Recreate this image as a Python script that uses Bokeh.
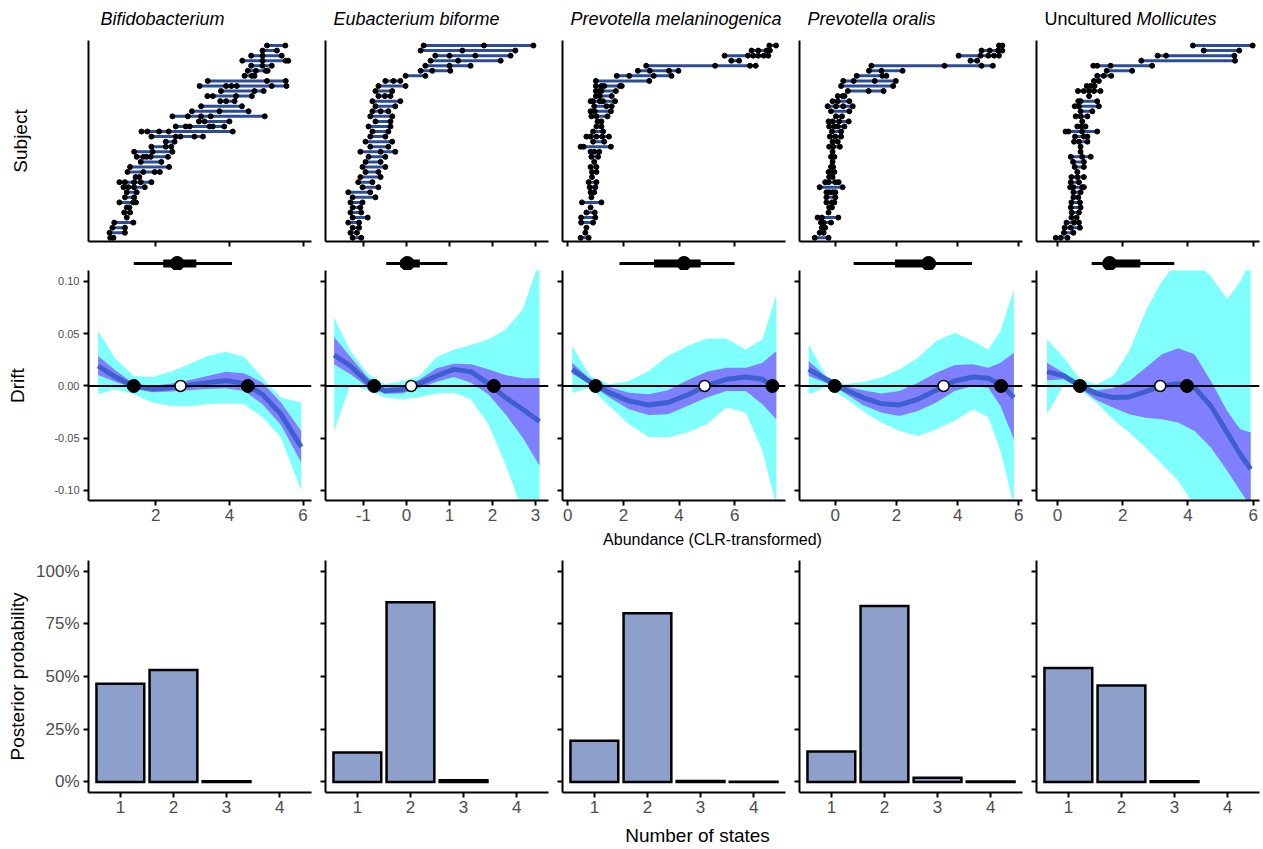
from bokeh.plotting import figure
from bokeh.layouts import column, row
from bokeh.models import Range1d, FixedTicker, CustomJSTickFormatter, NumeralTickFormatter
from bokeh.core.properties import value
from bokeh.embed import file_html
from bokeh.resources import INLINE

FONT = "Liberation Sans"

# ---------------- data ----------------
taxa = ["Bifidobacterium", "Eubacterium biforme", "Prevotella melaninogenica",
        "Prevotella oralis", "Uncultured Mollicutes"]

# per-subject abundance observations (rows listed top -> bottom)
bifido_subjects = [
    [5.02, 5.52], [4.90, 5.29], [4.59, 4.90, 5.42], [4.35, 4.90, 5.53, 5.60],
    [4.59, 4.90, 5.15], [4.50, 4.72, 4.99, 5.04], [4.41, 4.61, 4.68], [3.41, 5.02, 5.53],
    [3.19, 3.91, 4.05, 4.20, 5.15, 5.55], [3.77, 4.68, 4.93], [3.40, 3.55, 4.18, 4.61],
    [3.75, 3.91, 4.14], [3.23, 4.34], [2.98, 3.73, 4.52], [2.45, 2.87, 3.23, 3.49, 4.96],
    [3.17, 3.32, 4.00], [2.54, 2.81, 2.92, 3.46, 3.55, 3.86], [1.61, 1.77, 2.09, 2.35, 4.09],
    [1.88, 2.54, 2.67, 3.05, 3.28], [2.27, 2.51], [1.88, 2.27, 2.42], [1.41, 1.91, 2.45],
    [1.48, 1.66, 1.75, 1.86, 2.33], [1.59, 2.15], [1.30, 2.36], [1.23, 1.66, 1.97, 2.11],
    [1.45, 1.55], [1.01, 1.16, 1.41, 1.59, 1.88], [1.12, 1.25, 1.41, 1.70], [1.21, 1.48],
    [1.16, 1.41], [1.01, 1.39, 1.46], [1.21, 1.28], [1.14, 1.30], [1.21], [0.87, 1.39],
    [0.82, 1.16], [0.74, 1.16], [0.76, 0.85],
]
eubact_subjects = [
    [0.40, 1.80, 2.95], [0.33, 1.30, 2.53], [0.67, 1.00, 1.60, 2.42], [0.56, 1.20, 2.19],
    [0.44, 1.00, 1.49], [0.33, 0.60, 1.02], [-0.02, 0.44], [-0.49, -0.30, -0.14],
    [-0.65, -0.02], [-0.72, -0.33], [-0.65, -0.50, -0.37], [-0.79, -0.14], [-0.72, -0.26],
    [-0.79, -0.60, -0.42], [-0.84, -0.33], [-0.72, -0.37], [-0.88, -0.37], [-0.79, -0.42],
    [-0.84, -0.49], [-0.95, -0.33], [-0.84, -0.42], [-1.07, -0.60, -0.26], [-0.88, -0.49],
    [-0.95, -0.60], [-1.02, -0.49], [-0.95, -0.65], [-1.07, -0.60], [-1.12, -0.79],
    [-1.02, -0.65], [-1.35, -0.84], [-1.25, -0.72], [-1.30, -1.02], [-1.25, -1.07],
    [-1.30, -1.05], [-1.25, -0.90], [-1.35, -1.10], [-1.25, -1.10], [-1.30, -1.15],
    [-1.25, -1.05],
]
prevmel_subjects = [
    [7.25, 7.49], [6.61, 6.85, 7.15, 7.27], [5.64, 6.48, 6.67, 6.85, 7.05, 7.21], [5.88, 6.16],
    [2.82, 5.30, 6.55, 6.76], [2.52, 2.95, 3.64, 3.98], [1.76, 2.21, 3.09, 3.73], [1.01, 2.93],
    [1.01, 1.21, 1.31, 1.88, 1.94], [1.01, 1.13, 1.21, 1.73], [1.01, 1.15, 1.58],
    [0.82, 0.91, 1.15, 1.27, 1.70], [0.95, 1.39, 1.58], [0.82, 0.97, 1.55], [0.85, 1.03, 1.43],
    [1.07, 1.21], [1.03, 1.21], [0.91, 1.27], [0.67, 0.82, 1.03, 1.24, 1.48], [0.91, 1.31],
    [0.46, 0.57, 1.55], [0.82, 0.95, 1.13], [0.85, 1.09], [0.95], [0.82, 1.03], [0.87, 1.03],
    [0.87], [0.75, 1.03], [0.79, 0.99], [0.82, 0.95], [0.85], [0.51, 1.21], [0.82],
    [0.67, 0.97], [0.48, 0.99], [0.48, 0.91], [0.67], [0.63], [0.46, 0.75],
]
prevora_subjects = [
    [5.35, 5.46], [4.78, 5.05, 5.32, 5.46], [4.03, 4.75, 5.00, 5.19, 5.35], [4.42, 4.64],
    [1.18, 3.57, 4.78, 5.15], [1.10, 1.51, 2.20], [0.70, 1.54, 1.67], [0.26, 0.60, 1.29, 1.98],
    [0.19, 1.89], [0.41, 1.09, 1.58], [0.08, 0.24, 0.30], [-0.09, 0.08, 0.46],
    [-0.25, 0.02, 0.26, 0.57], [-0.14, 0.46], [0.02, 0.22], [-0.22, -0.09, 0.13, 0.44],
    [-0.20, -0.03, 0.08, 0.30], [-0.11, 0.19], [-0.18, 0.00, 0.19], [-0.09, 0.08],
    [-0.20, -0.07, 0.15], [-0.09], [-0.14, -0.03], [-0.09], [-0.14, -0.07],
    [-0.22, -0.14, -0.03], [-0.20, -0.09], [-0.33, -0.22, 0.00, 0.11], [-0.51, 0.24],
    [-0.29, -0.20, -0.09, 0.00], [-0.29, 0.00], [-0.29, -0.11, -0.03], [-0.20, -0.11],
    [-0.22], [-0.58, -0.44, 0.10], [-0.47, -0.38, -0.14], [-0.44, -0.33], [-0.51, -0.38],
    [-0.67, -0.22],
]
mollic_subjects = [
    [4.15, 5.98], [4.48, 5.57], [3.07, 3.33, 5.42], [2.57, 5.44], [1.10, 1.22, 1.63, 2.90],
    [1.51, 2.29], [1.22, 1.42, 1.65], [1.12, 1.27], [0.90, 1.02, 1.14],
    [0.63, 0.81, 0.97, 1.12, 1.32], [0.97], [0.64, 0.71, 1.22], [0.53, 0.66, 1.27],
    [0.71, 1.07], [0.56, 0.71, 0.92], [0.76], [0.61, 0.73, 0.86], [0.25, 0.34, 0.76, 1.22],
    [0.54, 0.81, 0.92], [0.51, 0.66, 0.92], [0.71], [0.71], [0.41, 0.76, 1.02], [0.48, 0.81],
    [0.53, 0.81], [0.61], [0.43, 0.61, 0.81], [0.41, 0.66], [0.39, 0.49, 0.76, 0.81],
    [0.49, 0.71], [0.49, 0.64], [0.43, 0.69], [0.41, 0.71], [0.44, 0.66], [0.43, 0.59],
    [0.28, 0.51, 0.66], [0.22, 0.41, 0.69], [0.20, 0.49], [-0.05, 0.10, 0.31],
]

# drift curves: posterior mean, 50% band, 95% band
bifido_x = [0.43, 0.9, 1.4, 1.9, 2.4, 2.9, 3.4, 3.9, 4.4, 4.9, 5.4, 5.95]
bifido_mean = [0.0191, 0.0086, 0.0, -0.0029, -0.0016, 0.0006, 0.0032, 0.0051, 0.0025, -0.0080, -0.0271, -0.0583]
bifido_in_lo = [0.0105, 0.004, -0.0022, -0.006, -0.0054, -0.0041, -0.0029, -0.0022, -0.0048, -0.0175, -0.0373, -0.0732]
bifido_in_hi = [0.0287, 0.015, 0.0022, 0.0003, 0.0022, 0.0054, 0.0096, 0.0137, 0.0121, 0.0032, -0.0159, -0.043]
bifido_out_lo = [-0.008, -0.0032, -0.008, -0.0159, -0.0191, -0.0197, -0.0175, -0.0166, -0.0175, -0.030, -0.0494, -0.1003]
bifido_out_hi = [0.0525, 0.0264, 0.0096, 0.0086, 0.0137, 0.0207, 0.0287, 0.0328, 0.0277, 0.008, -0.0111, -0.0159]

eubact_x = [-1.68, -1.3, -0.9, -0.5, -0.1, 0.3, 0.7, 1.1, 1.5, 1.9, 2.3, 2.7, 3.09]
eubact_mean = [0.0296, 0.0191, 0.0035, -0.0045, -0.0035, 0.0025, 0.0096, 0.0159, 0.0137, 0.0022, -0.0111, -0.0223, -0.0341]
eubact_in_lo = [0.0207, 0.0111, -0.001, -0.0075, -0.0073, -0.002, 0.0041, 0.0086, 0.0032, -0.008, -0.027, -0.0494, -0.0764]
eubact_in_hi = [0.0468, 0.0277, 0.008, -0.0016, 0.0003, 0.006, 0.0169, 0.0213, 0.0207, 0.0159, 0.0105, 0.0073, 0.0073]
eubact_out_lo = [-0.043, 0.0016, -0.004, -0.011, -0.0127, -0.0105, -0.0073, -0.0064, -0.0127, -0.0366, -0.0748, -0.12, -0.12]
eubact_out_hi = [0.0653, 0.0334, 0.012, 0.0016, 0.0048, 0.0096, 0.0277, 0.035, 0.0392, 0.0446, 0.0541, 0.0732, 0.12]

prevmel_x = [0.16, 0.8, 1.5, 2.2, 2.9, 3.6, 4.3, 5.0, 5.7, 6.4, 7.0, 7.5]
prevmel_mean = [0.0159, 0.0041, -0.0064, -0.0143, -0.0182, -0.0159, -0.0086, 0.0003, 0.0064, 0.0086, 0.0064, -0.002]
prevmel_in_lo = [0.0118, 0.0016, -0.0111, -0.0223, -0.0277, -0.0271, -0.0191, -0.0111, -0.0048, -0.0048, -0.0175, -0.0318]
prevmel_in_hi = [0.0223, 0.0064, -0.001, -0.0064, -0.008, -0.0041, 0.0054, 0.0137, 0.0175, 0.0175, 0.0223, 0.0334]
prevmel_out_lo = [-0.0064, -0.0016, -0.0191, -0.0366, -0.0487, -0.0494, -0.0446, -0.0366, -0.0207, -0.0255, -0.0621, -0.115]
prevmel_out_hi = [0.0382, 0.0096, 0.0016, 0.0048, 0.0143, 0.0287, 0.0382, 0.0455, 0.0455, 0.035, 0.0446, 0.0876]

prevora_x = [-0.87, -0.3, 0.3, 0.9, 1.5, 2.1, 2.7, 3.3, 3.9, 4.5, 5.0, 5.4, 5.84]
prevora_mean = [0.0159, 0.0064, -0.0032, -0.0111, -0.0169, -0.0182, -0.0127, -0.0041, 0.0048, 0.0086, 0.0073, 0.0016, -0.0111]
prevora_in_lo = [0.0096, 0.0032, -0.0064, -0.0182, -0.0255, -0.0287, -0.0239, -0.0159, -0.0048, 0.0, -0.0016, -0.0191, -0.051]
prevora_in_hi = [0.0239, 0.0086, 0.0, -0.0041, -0.0073, -0.0048, 0.0032, 0.0127, 0.0201, 0.0207, 0.0175, 0.0223, 0.0318]
prevora_out_lo = [-0.008, -0.001, -0.0111, -0.0239, -0.035, -0.043, -0.0478, -0.0414, -0.0334, -0.0223, -0.030, -0.0621, -0.115]
prevora_out_hi = [0.0398, 0.0096, 0.0016, 0.0038, 0.008, 0.0159, 0.0271, 0.043, 0.051, 0.043, 0.035, 0.0525, 0.0924]

mollic_x = [-0.32, 0.2, 0.7, 1.2, 1.7, 2.2, 2.7, 3.2, 3.7, 4.2, 4.7, 5.2, 5.6, 5.92]
mollic_mean = [0.0137, 0.0096, 0.0, -0.0073, -0.0111, -0.0105, -0.0054, 0.0, 0.0022, -0.0016, -0.0191, -0.0446, -0.0653, -0.0796]
mollic_in_lo = [0.0054, 0.0064, -0.0022, -0.0137, -0.0207, -0.0271, -0.0303, -0.0318, -0.035, -0.043, -0.0589, -0.0812, -0.1003, -0.115]
mollic_in_hi = [0.0223, 0.0127, 0.0016, -0.0041, -0.0022, 0.0048, 0.0175, 0.0303, 0.036, 0.0303, 0.0048, -0.0239, -0.0414, -0.0446]
mollic_out_lo = [-0.0271, 0.0016, -0.0041, -0.0159, -0.0318, -0.0446, -0.0589, -0.0748, -0.0908, -0.115, -0.12, -0.12, -0.12, -0.12]
mollic_out_hi = [0.0446, 0.0271, 0.0064, 0.0016, 0.0096, 0.0334, 0.0717, 0.1003, 0.12, 0.12, 0.105, 0.0835, 0.10, 0.12]

# fixed points of the drift (stable = filled, unstable = open)
stable_points = [[1.40, 4.50], [-0.75, 2.03], [1.00, 7.36], [-0.02, 5.42], [0.69, 3.97]]
unstable_points = [[2.67], [0.11], [4.92], [3.54], [3.15]]

# interval summary above the drift panels
summary_ci95 = [(1.40, 4.07), (-0.47, 0.95), (1.86, 6.00), (0.60, 4.47), (1.05, 3.58)]
summary_ci50 = [(2.20, 3.10), (-0.14, 0.31), (3.10, 4.78), (1.95, 3.20), (1.55, 2.54)]
summary_median = [2.58, 0.02, 4.18, 3.05, 1.60]

# posterior probability of number of states
bifido_states, bifido_prob = [1, 2, 3], [0.466, 0.531, 0.003]
eubact_states, eubact_prob = [1, 2, 3], [0.140, 0.852, 0.008]
prevmel_states, prevmel_prob = [1, 2, 3, 4], [0.195, 0.800, 0.004, 0.001]
prevora_states, prevora_prob = [1, 2, 3, 4], [0.144, 0.834, 0.020, 0.002]
mollic_states, mollic_prob = [1, 2, 3], [0.540, 0.457, 0.003]

drift_ticks = [[2, 4, 6], [-1, 0, 1, 2, 3], [0, 2, 4, 6], [0, 2, 4, 6], [0, 2, 4, 6]]
x_limits = [(0.17, 6.23), (-1.88, 3.30), (-0.19, 7.83), (-1.17, 6.12), (-0.64, 6.19)]

subjects = [bifido_subjects, eubact_subjects, prevmel_subjects, prevora_subjects, mollic_subjects]
drift = [
    (bifido_x, bifido_mean, bifido_in_lo, bifido_in_hi, bifido_out_lo, bifido_out_hi),
    (eubact_x, eubact_mean, eubact_in_lo, eubact_in_hi, eubact_out_lo, eubact_out_hi),
    (prevmel_x, prevmel_mean, prevmel_in_lo, prevmel_in_hi, prevmel_out_lo, prevmel_out_hi),
    (prevora_x, prevora_mean, prevora_in_lo, prevora_in_hi, prevora_out_lo, prevora_out_hi),
    (mollic_x, mollic_mean, mollic_in_lo, mollic_in_hi, mollic_out_lo, mollic_out_hi),
]
bars = [(bifido_states, bifido_prob), (eubact_states, eubact_prob), (prevmel_states, prevmel_prob),
        (prevora_states, prevora_prob), (mollic_states, mollic_prob)]

# ---------------- layout / style ----------------
COL_W = [318, 237, 237, 237, 233]
COL_L = [88, 7, 7, 7, 7]
COL_R = [7, 7, 7, 7, 3]
FRAME_W = 223
TOTAL_W = sum(COL_W)
TICK_GREY = "#4D4D4D"
SEG_BLUE = "#2C4C99"
CYAN = "#80FFFF"
PURPLE = "#8080FF"
MEAN_BLUE = "#3E5FD1"
BAR_FILL = "#8DA0CB"
TICK_SIZE = "17px"
TITLE_SIZE = "19px"


def base_fig(i, h, top, bottom, xr, yr, axes=True):
    kw = {} if axes else dict(x_axis_type=None, y_axis_type=None)
    p = figure(width=COL_W[i], height=h, x_range=xr, y_range=yr,
               output_backend="svg", toolbar_location=None, tools="",
               min_border_left=COL_L[i], min_border_right=COL_R[i],
               min_border_top=top, min_border_bottom=bottom, **kw)
    p.outline_line_color = None
    p.background_fill_color = "white"
    p.border_fill_color = "white"
    if axes:
        p.xgrid.visible = False
        p.ygrid.visible = False
    return p


def style_axis(ax, ticks=None, labels=True, tick_marks=True, size=TICK_SIZE):
    ax.axis_line_width = 2
    ax.axis_line_color = "black"
    ax.minor_tick_line_color = None
    ax.major_tick_in = 0
    if tick_marks:
        ax.major_tick_out = 5
        ax.major_tick_line_width = 2
        ax.major_tick_line_color = "black"
    else:
        ax.major_tick_out = 0
        ax.major_tick_line_color = None
    if ticks is not None:
        ax.ticker = FixedTicker(ticks=ticks)
    ax.major_label_text_font = FONT
    ax.major_label_text_font_size = size
    ax.major_label_text_color = TICK_GREY
    if labels:
        ax.major_label_standoff = 4
        ax.formatter = CustomJSTickFormatter(code="return tick.toString()")
    else:
        ax.major_label_standoff = 0
        ax.formatter = CustomJSTickFormatter(code="return ''")


def axis_title(ax, text, standoff):
    ax.axis_label = text
    ax.axis_label_text_font = FONT
    ax.axis_label_text_font_size = TITLE_SIZE
    ax.axis_label_text_font_style = "normal"
    ax.axis_label_text_color = "black"
    ax.axis_label_standoff = standoff


title_row, subj_row, summ_row, drift_row, bar_row = [], [], [], [], []

for i in range(5):
    xr = Range1d(*x_limits[i])

    # ---- title strip ----
    t = base_fig(i, 40, 0, 0, Range1d(0, FRAME_W), Range1d(0, 40), axes=False)
    tx = 12 if i == 0 else 8
    if i == 4:
        t.text(x=[tx], y=[22], text=["Uncultured"], text_font=value(FONT), text_font_size="18px",
               text_baseline="middle", text_align="left", text_color="black")
        t.text(x=[tx + 92], y=[22], text=["Mollicutes"], text_font=value(FONT), text_font_size="18px",
               text_font_style="italic", text_baseline="middle", text_align="left", text_color="black")
    else:
        t.text(x=[tx], y=[22], text=[taxa[i]], text_font=value(FONT), text_font_size="18px",
               text_font_style="italic", text_baseline="middle", text_align="left", text_color="black")
    title_row.append(t)

    # ---- subject dumbbells ----
    rows = subjects[i]
    n = len(rows)
    ys = [n - k for k in range(n)]
    p = base_fig(i, 210, 0, 9, xr, Range1d(0.27, n + 0.99))
    p.segment(x0=[min(r) for r in rows], x1=[max(r) for r in rows], y0=ys, y1=ys,
              line_color=SEG_BLUE, line_width=3)
    p.scatter(x=[v for r in rows for v in r], y=[n - k for k, r in enumerate(rows) for _ in r],
              size=5, color="black")
    style_axis(p.xaxis[0], ticks=drift_ticks[i], labels=False)
    style_axis(p.yaxis[0], ticks=[], labels=False, tick_marks=False)
    if i == 0:
        axis_title(p.yaxis[0], "Subject", 58)
    subj_row.append(p)

    # ---- interval summary ----
    s = base_fig(i, 20, 0, 0, xr, Range1d(0, 20), axes=False)
    lo95, hi95 = summary_ci95[i]
    lo50, hi50 = summary_ci50[i]
    s.segment(x0=[lo95], x1=[hi95], y0=[7], y1=[7], line_color="black", line_width=3)
    s.segment(x0=[lo50], x1=[hi50], y0=[7], y1=[7], line_color="black", line_width=8)
    s.scatter(x=[summary_median[i]], y=[7], size=14, color="black")
    summ_row.append(s)

    # ---- drift ----
    dx, dm, ilo, ihi, olo, ohi = drift[i]
    d = base_fig(i, 258, 0, 28, xr, Range1d(-0.1096, 0.1105))
    d.varea(x=dx, y1=olo, y2=ohi, fill_color=CYAN)
    d.varea(x=dx, y1=ilo, y2=ihi, fill_color=PURPLE)
    d.line(x=dx, y=dm, line_color=MEAN_BLUE, line_width=5)
    d.segment(x0=[x_limits[i][0]], x1=[x_limits[i][1]], y0=[0], y1=[0], line_color="black", line_width=2)
    d.scatter(x=stable_points[i], y=[0] * len(stable_points[i]), size=13, color="black")
    d.scatter(x=unstable_points[i], y=[0] * len(unstable_points[i]), size=11,
              fill_color="white", line_color="black", line_width=1.5)
    style_axis(d.xaxis[0], ticks=drift_ticks[i], labels=True)
    d.xaxis[0].major_label_standoff = 3
    if i == 0:
        style_axis(d.yaxis[0], ticks=[-0.1, -0.05, 0, 0.05, 0.1], labels=True, size="11px")
        d.yaxis[0].formatter = CustomJSTickFormatter(code="return tick.toFixed(2)")
        axis_title(d.yaxis[0], "Drift", 23)
    else:
        style_axis(d.yaxis[0], ticks=[-0.1, -0.05, 0, 0.05, 0.1], labels=False)
    drift_row.append(d)

    # ---- posterior number of states ----
    st, pr = bars[i]
    b = base_fig(i, 266, 8, 26, Range1d(0.4, 4.6), Range1d(-0.05, 1.05))
    b.vbar(x=st, top=pr, bottom=0, width=0.9, fill_color=BAR_FILL, line_color="black",
           line_width=2.5, line_join="miter")
    style_axis(b.xaxis[0], ticks=[1, 2, 3, 4], labels=True)
    b.xaxis[0].major_label_standoff = 3
    if i == 0:
        style_axis(b.yaxis[0], ticks=[0, 0.25, 0.5, 0.75, 1.0], labels=True)
        b.yaxis[0].formatter = NumeralTickFormatter(format="0%")
        axis_title(b.yaxis[0], "Posterior probability", 5)
    else:
        style_axis(b.yaxis[0], ticks=[0, 0.25, 0.5, 0.75, 1.0], labels=False)
    bar_row.append(b)


def text_strip(h, txt, cx, cy, size):
    p = figure(width=TOTAL_W, height=h, x_range=Range1d(0, TOTAL_W), y_range=Range1d(0, h),
               output_backend="svg", toolbar_location=None, tools="",
               x_axis_type=None, y_axis_type=None,
               min_border_left=0, min_border_right=0, min_border_top=0, min_border_bottom=0)
    p.outline_line_color = None
    p.text(x=[cx], y=[cy], text=[txt], text_font=value(FONT), text_font_size=size,
           text_align="center", text_baseline="middle", text_color="black")
    return p


abund = text_strip(24, "Abundance (CLR-transformed)", 712, 13, "16px")
states = text_strip(30, "Number of states", 697, 13, TITLE_SIZE)

layout = column(row(*title_row), row(*subj_row), row(*summ_row), row(*drift_row),
                abund, row(*bar_row), states)

open("out.html", "w").write(file_html(layout, INLINE, title="Drift"))
